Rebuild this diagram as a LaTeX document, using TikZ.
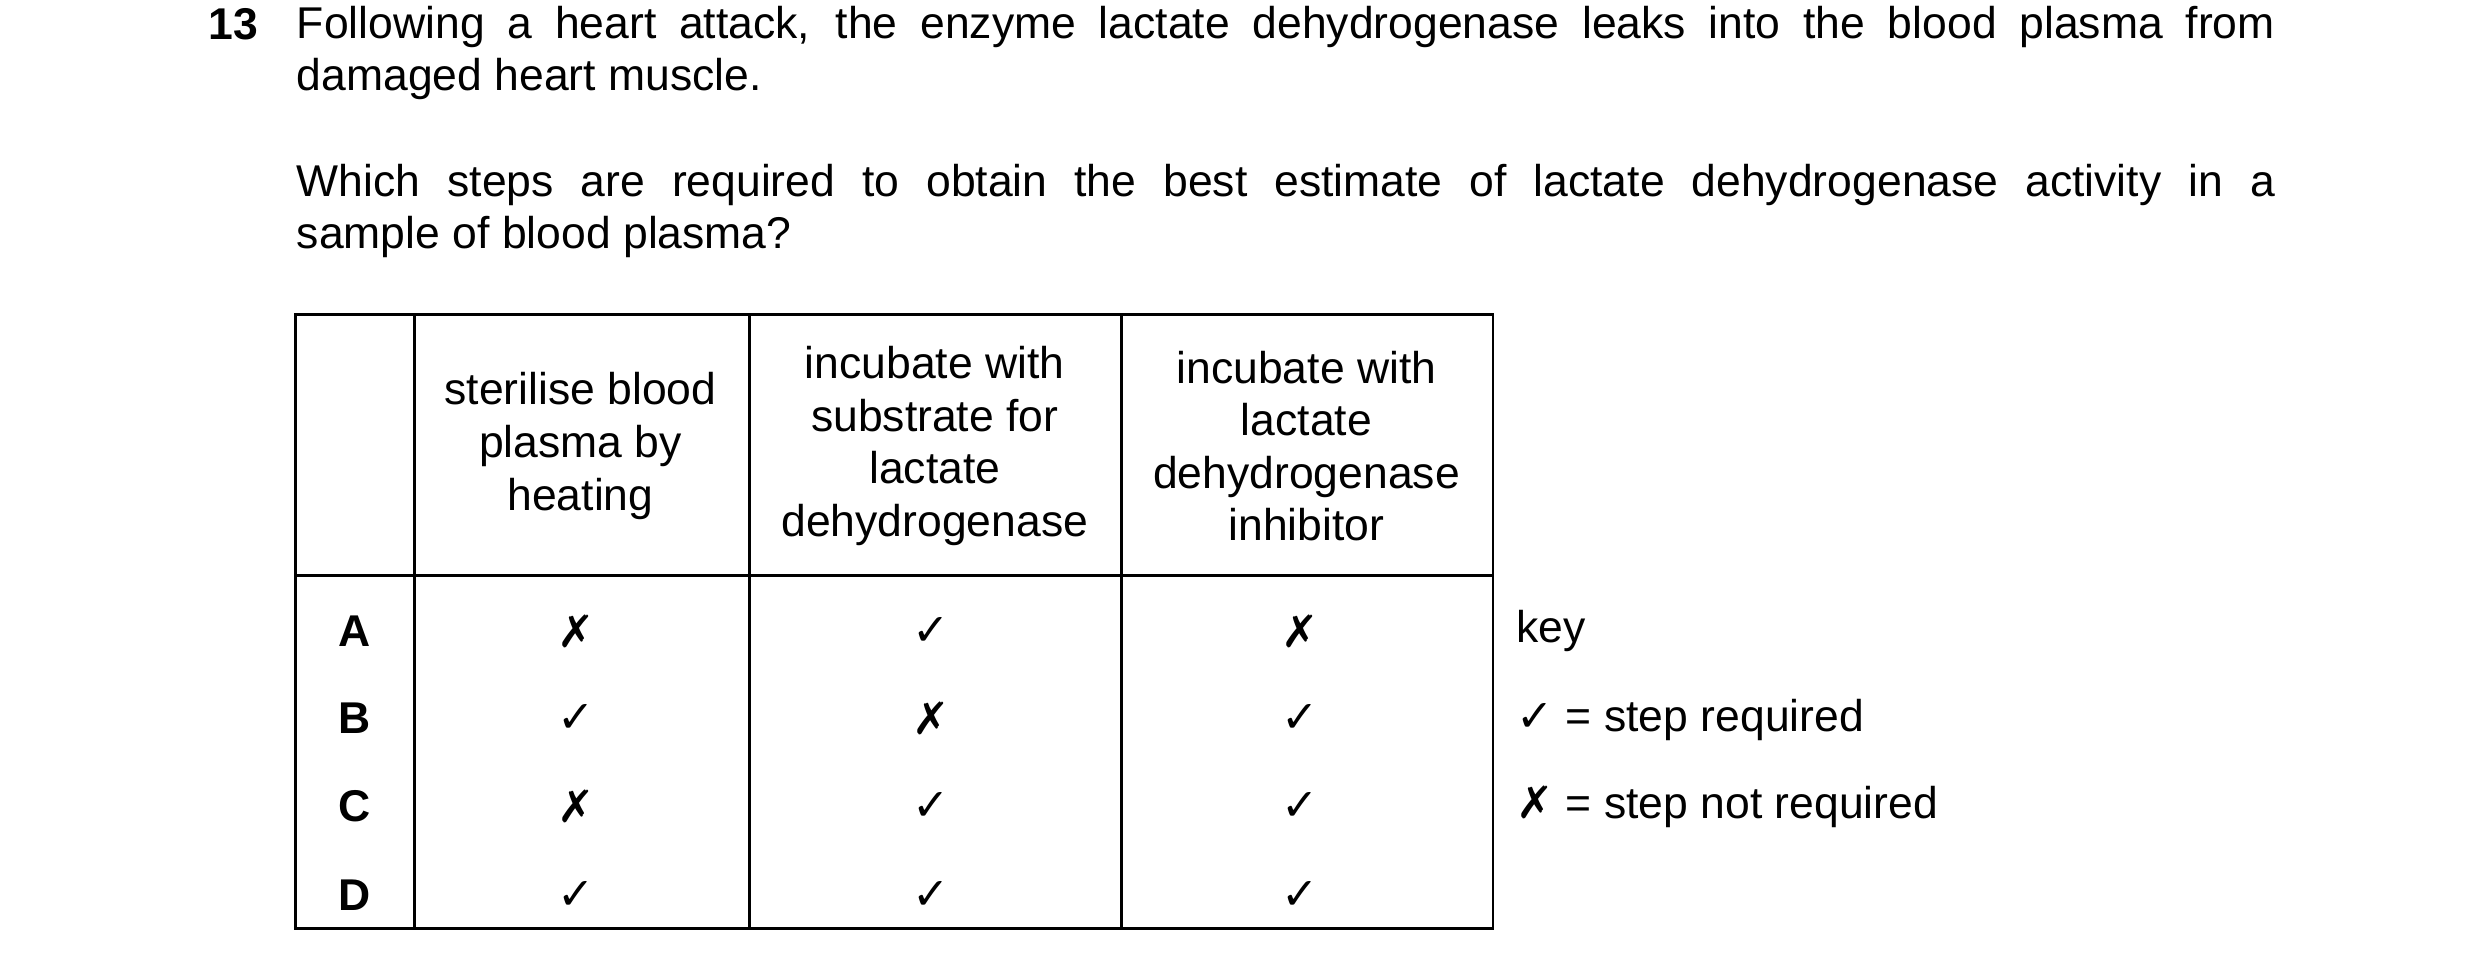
\documentclass[tikz,border=0pt]{standalone}
\usepackage{fontspec}
\setmainfont{Liberation Sans}
\newfontfamily\sym{DejaVu Sans}
\newcommand{\ck}{{\sym ✓}}
\newcommand{\xx}{{\sym ✗}}
\begin{document}
\begin{tikzpicture}[x=0.01cm,y=-0.01cm,
  txt/.style={inner sep=0pt,font=\fontsize{8}{9.45}\selectfont},
  hd/.style={txt,align=center},
  mk/.style={txt},
  tab/.style={line width=0.5pt}]
\useasboundingbox (0,0) rectangle (1568,613);
\node[txt,font=\fontsize{8}{9.45}\selectfont\bfseries,anchor=base west] (num) at (131,25) {13};
\node[txt,anchor=north west,text width=1250\pgflinewidth,text width=12.5cm,align=justify] (p1) at (187,3) {Following a heart attack, the enzyme lactate dehydrogenase leaks into the blood plasma from\linebreak damaged heart muscle.};
\node[txt,anchor=north west,text width=12.5cm,align=justify] (p2) at (187,103) {Which steps are required to obtain the best estimate of lactate dehydrogenase activity in a\linebreak sample of blood plasma?};
\draw[tab] (187,199) rectangle (944,587);
\foreach \x in {262,474,709} \draw[tab] (\x,199) -- (\x,587);
\draw[tab] (187,364) -- (944,364);
\node[hd] (h1) at (367,282) {sterilise blood\\plasma by\\heating};
\node[hd] (h2) at (591,282) {incubate with\\substrate for\\lactate\\dehydrogenase};
\node[hd] (h3) at (826,282) {incubate with\\lactate\\dehydrogenase\\inhibitor};
\foreach \l/\y/\a/\b/\c in {A/399/\xx/\ck/\xx, B/454/\ck/\xx/\ck, C/510/\xx/\ck/\ck, D/566/\ck/\ck/\ck}{
  \node[txt,font=\fontsize{8}{9.45}\selectfont\bfseries] (r\l) at (224,\y) {\l};
  \node[mk] (a\l) at (364,\y) {\a};
  \node[mk] (b\l) at (589,\y) {\b};
  \node[mk] (c\l) at (822,\y) {\c};
}
\node[txt,anchor=west] (k0) at (958,399) {key};
\node[txt,anchor=west] (k1) at (958,455) {\ck\ = step required};
\node[txt,anchor=west] (k2) at (958,510) {\xx\ = step not required};
\end{tikzpicture}
\end{document}
